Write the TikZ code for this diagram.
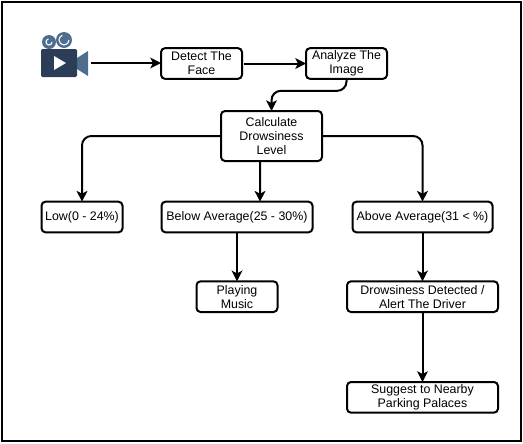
\documentclass[tikz,border=0pt]{standalone}
\usepackage{fontspec}
\setmainfont{Liberation Sans}
\definecolor{camdark}{HTML}{2C3E57}
\definecolor{camlight}{HTML}{4F6D8F}
\usetikzlibrary{arrows.meta,positioning}

\begin{document}
\begin{tikzpicture}[
  x=0.75pt, y=-0.75pt,
  stepbox/.style={rectangle, draw=black, line width=1.5pt, fill=white, rounded corners=3pt, minimum width=60.75pt, minimum height=23pt, inner sep=0pt, outer sep=0pt, align=center, font=\fontsize{9.3}{10.5}\selectfont},
  link/.style={draw=black, line width=1.5pt, -{Stealth[length=8pt,width=8pt,inset=2pt]}},
  elbow/.style={link, rounded corners=7pt}]
\useasboundingbox (0,0) rectangle (523,443);
\draw[line width=1.5pt] (2,2) rectangle (521,441);
% camera
\fill[camlight] (49,42) circle (7) (64,40) circle (8);
\draw[white, line width=0.8pt] (52,42) arc (0:260:3) (69,40) arc (0:250:5);
\fill[camlight] (77,58) -- (88,51) -- (88,76) -- (77,69) -- cycle;
\node[fill=camdark, rounded corners=1pt, minimum width=27pt, minimum height=21pt, inner sep=0pt] (camera) at (59,63) {};
\fill[white] (54,56) -- (66,63) -- (54,70) -- cycle;
\coordinate (camout) at (91,63);
% boxes
\node[stepbox] (detect) at (201.5,63.5) {Detect The\\Face};
\node[stepbox, right=48pt of detect] (analyze) {Analyze The\\Image};
\node[stepbox, minimum width=75.75pt, minimum height=37.5pt] (calc) at (271.5,136) {Calculate\\Drowsiness\\Level};
\node[stepbox] (lowlvl) at (82,217) {Low(0 - 24\%)};
\node[stepbox, minimum width=113.25pt, right=29.25pt of lowlvl] (avglvl) {Below Average(25 - 30\%)};
\node[stepbox, minimum width=105pt, right=30pt of avglvl] (highlvl) {Above Average(31 < \%)};
\node[stepbox, below=36.75pt of avglvl] (music) {Playing\\Music};
\node[stepbox, minimum width=113.25pt, below=36.75pt of highlvl] (alert) {Drowsiness Detected /\\Alert The Driver};
\node[stepbox, minimum width=113.25pt, below=52.5pt of alert] (parking) {Suggest to Nearby\\Parking Palaces};
% connectors
\draw[link] (camout) -- (camout -| detect.west);
\draw[link, shorten <=1.5pt] (detect) -- (analyze);
\draw[elbow] (analyze.south) -- ++(0,12) -| (calc.north);
\draw[elbow] (calc.west) -| (lowlvl.north);
\draw[link] ([xshift=-8.6pt]calc.south) -- ([xshift=17.25pt]avglvl.north);
\draw[elbow] (calc.east) -| (highlvl.north);
\draw[link] (avglvl) -- (music);
\draw[link] (highlvl) -- (alert);
\draw[link] (alert) -- (parking);
\end{tikzpicture}
\end{document}
